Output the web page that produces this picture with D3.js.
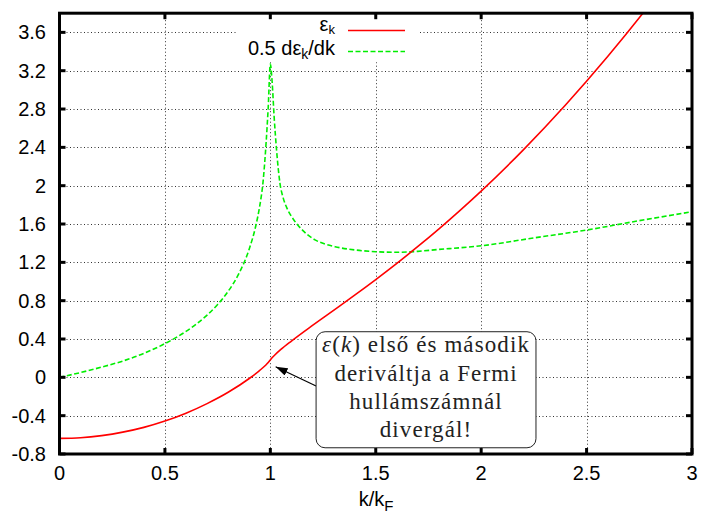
<!DOCTYPE html>
<html>
<head>
<meta charset="utf-8">
<script src="https://cdn.jsdelivr.net/npm/d3@7"></script>
<style>
  body { margin: 0; background: #fff; }
  svg { display: block; }
</style>
</head>
<body>
<svg id="chart" width="702" height="516"></svg>
<script>
// k/kF samples and the dispersion eps_k
const kRed = [0, 0.1, 0.2, 0.3, 0.4, 0.5, 0.6, 0.7, 0.8, 0.9, 0.95, 0.98, 0.99, 1.0, 1.01, 1.02, 1.05,
  1.1, 1.2, 1.3, 1.4, 1.5, 1.6, 1.7, 1.8, 1.9, 2.0, 2.2, 2.4, 2.6, 2.8, 3.0];
const epsK = [-0.637, -0.630, -0.608, -0.572, -0.522, -0.456, -0.374, -0.274, -0.156, -0.012, 0.073, 0.132, 0.155, 0.182, 0.209, 0.231, 0.291,
  0.379, 0.542, 0.699, 0.857, 1.020, 1.189, 1.366, 1.550, 1.743, 1.944, 2.374, 2.842, 3.348, 3.892, 4.476];

// 0.5 d eps_k / dk
const kGreen = [0, 0.1, 0.2, 0.3, 0.4, 0.5, 0.6, 0.65, 0.7, 0.75, 0.8, 0.85, 0.9, 0.93, 0.95, 0.965, 0.98, 0.99, 1.0,
  1.008, 1.018, 1.03, 1.046, 1.06, 1.08, 1.1, 1.126, 1.16, 1.212, 1.26, 1.307, 1.4, 1.5, 1.6, 1.7, 1.8, 1.9, 2.0, 2.25, 2.5, 2.75, 3.0];
const halfDeriv = [0, 0.05, 0.107, 0.17, 0.25, 0.352, 0.479, 0.557, 0.649, 0.76, 0.898, 1.079, 1.34, 1.572, 1.792, 2.03, 2.45, 2.82, 3.27,
  3.1, 2.72, 2.36, 2.02, 1.88, 1.76, 1.68, 1.6, 1.52, 1.435, 1.39, 1.363, 1.33, 1.311, 1.305, 1.315, 1.335, 1.352, 1.373, 1.455, 1.537, 1.635, 1.728];

const xTicks = [0, 0.5, 1, 1.5, 2, 2.5, 3];
const yTicks = [-0.8, -0.4, 0, 0.4, 0.8, 1.2, 1.6, 2, 2.4, 2.8, 3.2, 3.6];

const noteLines = ['deriváltja a Fermi', 'hullámszámnál', 'divergál!'];

const plot = { left: 59.5, right: 692, top: 13.2, bottom: 454 };

const x = d3.scaleLinear().domain([0, 3]).range([plot.left, plot.right]);
const y = d3.scaleLinear().domain([-0.8, 3.8]).range([plot.bottom, plot.top]);

const svg = d3.select('#chart');
const sans = '"Liberation Sans", Arial, Helvetica, sans-serif';
const serif = '"Liberation Serif", "DejaVu Serif", serif';

svg.append('defs').append('clipPath').attr('id', 'clip')
  .append('rect')
  .attr('x', plot.left).attr('y', plot.top)
  .attr('width', plot.right - plot.left).attr('height', plot.bottom - plot.top);

// dotted grid
const grid = svg.append('g').attr('class', 'grid')
  .attr('stroke', '#333').attr('stroke-width', 1).attr('stroke-dasharray', '1,2.5');
grid.selectAll('line.gx').data(xTicks.slice(1, -1)).enter().append('line')
  .attr('class', 'gx')
  .attr('x1', d => Math.round(x(d)) + 0.5).attr('x2', d => Math.round(x(d)) + 0.5)
  .attr('y1', plot.top).attr('y2', plot.bottom);
grid.selectAll('line.gy').data(yTicks.slice(1)).enter().append('line')
  .attr('class', 'gy')
  .attr('y1', d => Math.round(y(d)) + 0.5).attr('y2', d => Math.round(y(d)) + 0.5)
  .attr('x1', plot.left).attr('x2', plot.right);

// curves
const curves = svg.append('g').attr('clip-path', 'url(#clip)');
const line = d3.line().x(d => x(d[0])).y(d => y(d[1])).curve(d3.curveMonotoneX);

curves.append('path')
  .datum(d3.zip(kGreen, halfDeriv))
  .attr('d', line)
  .attr('fill', 'none')
  .attr('stroke', '#00ee00')
  .attr('stroke-width', 1.6)
  .attr('stroke-dasharray', '5,2.5');

curves.append('path')
  .datum(d3.zip(kRed, epsK))
  .attr('d', line)
  .attr('fill', 'none')
  .attr('stroke', '#ff0000')
  .attr('stroke-width', 1.6);

// key (opaque, hides grid behind it)
const key = svg.append('g').attr('font-family', sans).attr('font-size', 20);
key.append('rect').attr('x', 238).attr('y', plot.top + 2).attr('width', 180).attr('height', 47).attr('fill', '#fff');

const k1 = key.append('text').attr('x', 335).attr('y', 31).attr('text-anchor', 'end');
k1.append('tspan').text('ε');
k1.append('tspan').attr('font-size', 13).attr('dy', 3).text('k');
key.append('line').attr('x1', 348).attr('x2', 405).attr('y1', 30.5).attr('y2', 30.5)
  .attr('stroke', '#ff0000').attr('stroke-width', 1.6);

const k2 = key.append('text').attr('x', 335).attr('y', 55).attr('text-anchor', 'end');
k2.append('tspan').text('0.5 dε');
k2.append('tspan').attr('font-size', 14).attr('dy', 4).text('k');
k2.append('tspan').attr('dy', -4).text('/dk');
key.append('line').attr('x1', 348).attr('x2', 405).attr('y1', 51.5).attr('y2', 51.5)
  .attr('stroke', '#00ee00').attr('stroke-width', 1.6).attr('stroke-dasharray', '5,2.5');

// frame + ticks (mirrored on all sides)
const axes = svg.append('g').attr('stroke', '#000').attr('stroke-width', 3);
const tickLen = 6;
axes.selectAll('line.tb').data(xTicks).enter().append('line')
  .attr('x1', d => x(d)).attr('x2', d => x(d)).attr('y1', plot.bottom).attr('y2', plot.bottom - tickLen);
axes.selectAll('line.tt').data(xTicks).enter().append('line')
  .attr('x1', d => x(d)).attr('x2', d => x(d)).attr('y1', plot.top).attr('y2', plot.top + tickLen);
axes.selectAll('line.tl').data(yTicks).enter().append('line')
  .attr('y1', d => y(d)).attr('y2', d => y(d)).attr('x1', plot.left).attr('x2', plot.left + tickLen);
axes.selectAll('line.tr').data(yTicks).enter().append('line')
  .attr('y1', d => y(d)).attr('y2', d => y(d)).attr('x1', plot.right).attr('x2', plot.right - tickLen);
axes.append('rect')
  .attr('x', plot.left).attr('y', plot.top)
  .attr('width', plot.right - plot.left).attr('height', plot.bottom - plot.top)
  .attr('fill', 'none');

// tick labels
const labels = svg.append('g').attr('font-family', sans).attr('font-size', 20).attr('fill', '#000');
labels.selectAll('text.xl').data(xTicks).enter().append('text')
  .attr('x', d => x(d)).attr('y', 480).attr('text-anchor', 'middle')
  .text(d => String(d));
labels.selectAll('text.yl').data(yTicks).enter().append('text')
  .attr('x', 46).attr('y', d => y(d) + 7).attr('text-anchor', 'end')
  .text(d => String(d));

const xl = labels.append('text').attr('x', 376).attr('y', 506).attr('text-anchor', 'middle');
xl.append('tspan').text('k/k');
xl.append('tspan').attr('font-size', 15).attr('dy', 5).text('F');

// annotation: arrow + rounded box
const note = { x0: 1.217, x1: 2.26, y0: 0.476, y1: -0.735, tipX: 1.025, tipY: 0.11, tailY: -0.09 };
svg.append('defs').append('marker')
  .attr('id', 'head').attr('viewBox', '0 0 12 8').attr('refX', 12).attr('refY', 4)
  .attr('markerWidth', 12).attr('markerHeight', 8).attr('markerUnits', 'userSpaceOnUse')
  .attr('orient', 'auto')
  .append('path').attr('d', 'M0,0 L12,4 L0,8 Z').attr('fill', '#000');
svg.append('line')
  .attr('x1', x(note.x0)).attr('y1', y(note.tailY))
  .attr('x2', x(note.tipX)).attr('y2', y(note.tipY))
  .attr('stroke', '#000').attr('stroke-width', 1.2)
  .attr('marker-end', 'url(#head)');

svg.append('rect')
  .attr('x', x(note.x0)).attr('y', y(note.y0))
  .attr('width', x(note.x1) - x(note.x0)).attr('height', y(note.y1) - y(note.y0))
  .attr('rx', 9).attr('ry', 9)
  .attr('fill', '#fff').attr('stroke', '#222').attr('stroke-width', 1);

const cx = (x(note.x0) + x(note.x1)) / 2;
const nt = svg.append('g').attr('font-family', serif).attr('font-size', 23)
  .attr('fill', '#222').attr('text-anchor', 'middle').attr('letter-spacing', 1.1);
const first = nt.append('text').attr('x', cx).attr('y', 352);
first.append('tspan').attr('font-style', 'italic').text('ε');
first.append('tspan').text('(');
first.append('tspan').attr('font-style', 'italic').text('k');
first.append('tspan').text(') első és második');
nt.selectAll('text.nl').data(noteLines).enter().append('text')
  .attr('class', 'nl')
  .attr('x', cx).attr('y', (d, i) => 380.5 + i * 28.3)
  .text(d => d);
</script>
</body>
</html>
